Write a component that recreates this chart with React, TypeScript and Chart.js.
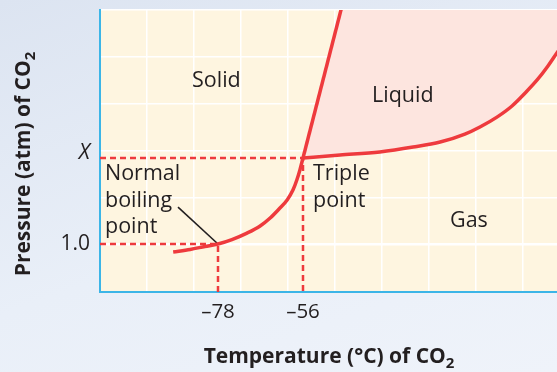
import { useEffect, useRef } from "react";
import { Chart, registerables } from "chart.js";

Chart.register(...registerables);

// Phase boundaries of CO2: temperature (°C) against pressure (atm)
const sublimationT = [-89.6, -85.2, -81.4, -78, -74.4, -70.5, -67.1, -64.5, -62.2, -60.1, -58.6, -57.6, -56.8, -56];
const sublimationP = [0.62, 0.74, 0.88, 1.0, 1.21, 1.52, 1.86, 2.24, 2.67, 3.1, 3.57, 4.05, 4.53, 5.1];

const meltingT = [-56, -43.6];
const meltingP = [5.1, 14];

const vaporT = [-56, -46.4, -36.1, -27.5, -20.5, -14.1, -10.2, -5.8, -1.9, 1.5, 4.6, 7.4, 9.7, 12.1];
const vaporP = [5.1, 5.24, 5.39, 5.62, 5.86, 6.24, 6.58, 7.05, 7.58, 8.2, 8.82, 9.49, 10.11, 10.73];

// upper edge of the liquid region (melting line, then off the top of the plot)
const liquidEdgeT = [-56, -43.6, 20];
const liquidEdgeP = [5.1, 14, 14];

// normal sublimation point and triple point
const normalPoint = { t: -78, p: 1.0 };
const triplePoint = { t: -56, p: 5.1 };

// leader line from the "Normal boiling point" caption
const leaderT = [-88.35, -78];
const leaderP = [2.76, 1.0];

const xTickValues = [-78, -56];
const xTickLabels = ["–78", "–56"];
const yTickValues = [1.0, 5.1];
const yTickLabels = ["1.0", "X"];

// axis ranges and background grid spacing
const T_MIN = -108.54;
const T_MAX = 9.74;
const T_GRID = 12.165;
const P_MIN = -1.288;
const P_MAX = 12.155;
const P_GRID = 2.2405;

const FONT = "'Open Sans', 'Noto Sans', sans-serif";
const INK = "#231f20";
const RED = "#ee3a3d";
const LIQUID = "#fde5df";
const PLOT_BG = "#fef5e0";
const AXIS = "#3cb5e7";

const zip = (xs: number[], ys: number[]) => xs.map((x, i) => ({ x, y: ys[i] }));

const isLabelled = (v: number, list: number[]) => list.some((l) => Math.abs(l - v) < 1e-6);

function gridValues(min: number, max: number, step: number) {
  const out: number[] = [];
  for (let v = min; v <= max + 1e-6; v += step) out.push(v);
  return out;
}

function drawWithSub(
  ctx: CanvasRenderingContext2D,
  main: string,
  sub: string,
  centerX: number,
  baseline: number,
  mainFont: string,
  subFont: string,
  subDrop: number
) {
  ctx.font = mainFont;
  const mw = ctx.measureText(main).width;
  ctx.font = subFont;
  const sw = ctx.measureText(sub).width;
  const start = centerX - (mw + sw) / 2;
  ctx.textAlign = "left";
  ctx.textBaseline = "alphabetic";
  ctx.font = mainFont;
  ctx.fillText(main, start, baseline);
  ctx.font = subFont;
  ctx.fillText(sub, start + mw, baseline + subDrop);
}

const plotBackground = {
  id: "plotBackground",
  beforeDraw(chart: Chart) {
    const { ctx, chartArea } = chart;
    ctx.save();
    ctx.fillStyle = PLOT_BG;
    ctx.fillRect(chartArea.left, chartArea.top, chartArea.right - chartArea.left, chartArea.bottom - chartArea.top);
    ctx.restore();
  },
};

const captions = {
  id: "captions",
  afterDraw(chart: Chart) {
    const { ctx } = chart;
    ctx.save();
    ctx.fillStyle = INK;
    ctx.textAlign = "left";
    ctx.textBaseline = "alphabetic";
    ctx.font = `21.5px ${FONT}`;
    ctx.fillText("Solid", 192, 87);
    ctx.fillText("Liquid", 372, 102);
    ctx.fillText("Gas", 450, 227);
    ctx.fillText("Triple", 313, 180);
    ctx.fillText("point", 313, 207);
    ctx.fillText("Normal", 105, 180);
    ctx.fillText("boiling", 105, 207);
    ctx.fillText("point", 105, 233);

    // axis titles
    drawWithSub(ctx, "Temperature (°C) of CO", "2", 329, 363, `bold 21px ${FONT}`, `bold 15px ${FONT}`, 5);
    ctx.save();
    ctx.translate(30, 164);
    ctx.rotate(-Math.PI / 2);
    drawWithSub(ctx, "Pressure (atm) of CO", "2", 0, 0, `bold 21px ${FONT}`, `bold 15px ${FONT}`, 5);
    ctx.restore();
    ctx.restore();
  },
};

export default function App() {
  const canvasRef = useRef<HTMLCanvasElement | null>(null);

  useEffect(() => {
    if (!canvasRef.current) return;
    const dashed = {
      borderColor: RED,
      borderWidth: 2.5,
      borderDash: [6, 4],
      pointRadius: 0,
      fill: false,
      tension: 0,
    };
    const curve = {
      borderColor: RED,
      borderWidth: 3.5,
      pointRadius: 0,
      fill: false,
    };
    const chart = new Chart(canvasRef.current, {
      type: "line",
      data: {
        datasets: [
          {
            label: "Solid–gas boundary",
            data: zip(sublimationT, sublimationP),
            ...curve,
            cubicInterpolationMode: "monotone",
          },
          {
            label: "Solid–liquid boundary",
            data: zip(meltingT, meltingP),
            ...curve,
            tension: 0,
          },
          {
            label: "Liquid–gas boundary",
            data: zip(vaporT, vaporP),
            ...curve,
            cubicInterpolationMode: "monotone",
          },
          {
            label: "Leader",
            data: zip(leaderT, leaderP),
            borderColor: INK,
            borderWidth: 1.6,
            pointRadius: 0,
            fill: false,
          },
          {
            label: "Normal point guide",
            data: [
              { x: T_MIN, y: normalPoint.p },
              { x: normalPoint.t, y: normalPoint.p },
              { x: normalPoint.t, y: P_MIN },
            ],
            ...dashed,
          },
          {
            label: "Triple point guide",
            data: [
              { x: T_MIN, y: triplePoint.p },
              { x: triplePoint.t, y: triplePoint.p },
              { x: triplePoint.t, y: P_MIN },
            ],
            ...dashed,
          },
          {
            label: "Liquid",
            data: zip(liquidEdgeT, liquidEdgeP),
            borderWidth: 0,
            borderColor: "rgba(0,0,0,0)",
            backgroundColor: LIQUID,
            pointRadius: 0,
            tension: 0,
            fill: 2,
          },
        ],
      },
      options: {
        responsive: false,
        animation: false,
        events: [],
        layout: { padding: { top: 10, right: 0, left: 0, bottom: 0 } },
        plugins: {
          legend: { display: false },
          tooltip: { enabled: false },
          title: { display: false },
        },
        scales: {
          x: {
            type: "linear",
            min: T_MIN,
            max: T_MAX,
            afterBuildTicks: (scale: any) => {
              scale.ticks = [...gridValues(T_MIN, T_MAX, T_GRID), ...xTickValues].map((value) => ({ value }));
            },
            afterFit: (scale: any) => {
              scale.height = 80;
              scale.paddingLeft = 0;
              scale.paddingRight = 0;
            },
            grid: {
              color: (c: any) => (c.tick && isLabelled(c.tick.value, xTickValues) ? "rgba(0,0,0,0)" : "#ffffff"),
              lineWidth: 1.5,
              drawTicks: false,
            },
            border: { color: AXIS, width: 2 },
            ticks: {
              autoSkip: false,
              maxRotation: 0,
              padding: 8,
              color: INK,
              font: { family: FONT, size: 20.5 },
              callback: (value: any) => {
                const i = xTickValues.findIndex((v) => Math.abs(v - value) < 1e-6);
                return i >= 0 ? xTickLabels[i] : "";
              },
            },
          },
          y: {
            type: "linear",
            min: P_MIN,
            max: P_MAX,
            afterBuildTicks: (scale: any) => {
              scale.ticks = [...gridValues(P_MIN, P_MAX, P_GRID), ...yTickValues].map((value) => ({ value }));
            },
            afterFit: (scale: any) => {
              scale.width = 100;
              scale.paddingTop = 0;
              scale.paddingBottom = 0;
            },
            grid: {
              color: (c: any) =>
                c.tick && isLabelled(c.tick.value, yTickValues) && Math.abs(c.tick.value - 1.0) > 1e-6
                  ? "rgba(0,0,0,0)"
                  : "#ffffff",
              lineWidth: 1.5,
              drawTicks: false,
            },
            border: { color: AXIS, width: 2 },
            ticks: {
              autoSkip: false,
              padding: 10,
              color: INK,
              font: (c: any) =>
                c.tick && Math.abs(c.tick.value - triplePoint.p) < 1e-6
                  ? { family: FONT, size: 21.5, style: "italic", lineHeight: 0.45 }
                  : { family: FONT, size: 21 },
              callback: (value: any) => {
                const i = yTickValues.findIndex((v) => Math.abs(v - value) < 1e-6);
                if (i < 0) return "";
                return Math.abs(value - triplePoint.p) < 1e-6 ? [yTickLabels[i], ""] : yTickLabels[i];
              },
            },
          },
        },
      },
      plugins: [plotBackground, captions],
    });
    return () => chart.destroy();
  }, []);

  return (
    <div
      style={{
        position: "absolute",
        left: 0,
        top: 0,
        width: 557,
        height: 372,
        overflow: "hidden",
        background: "linear-gradient(160deg, #dce4f1 0%, #e9eff8 55%, #eff3fa 100%)",
      }}
    >
      <canvas ref={canvasRef} width={557} height={372} style={{ display: "block" }} />
    </div>
  );
}
